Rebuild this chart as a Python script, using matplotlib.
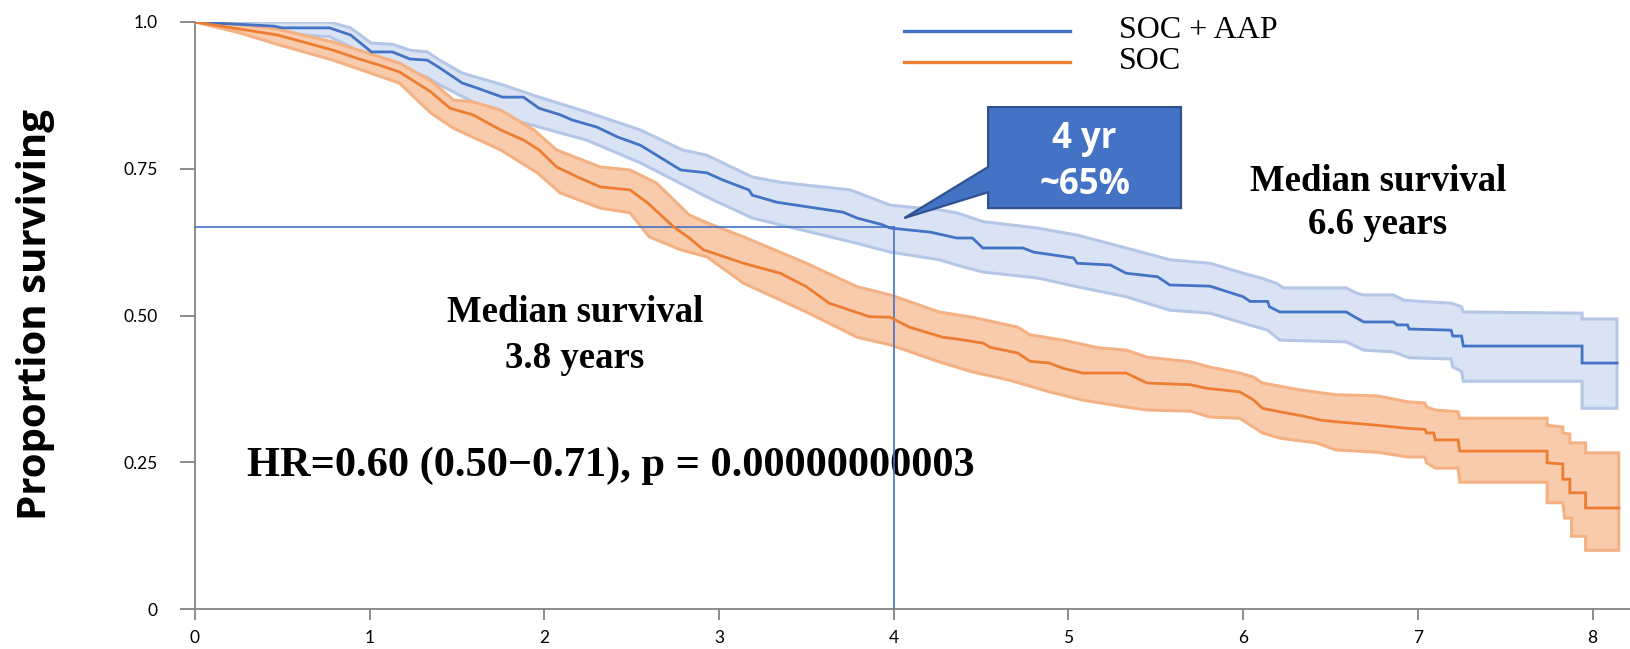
import numpy as np
import matplotlib
matplotlib.use("Agg")
import matplotlib.pyplot as plt

# Kaplan-Meier estimates (years, proportion surviving) with 95% bands
aap_t = [0, 0.45, 0.5, 0.77, 0.89, 1.01, 1.13, 1.23, 1.33, 1.40, 1.53, 1.61, 1.76, 1.88, 1.97,
         2.09, 2.16, 2.30, 2.42, 2.55, 2.78, 2.93, 3.02, 3.17, 3.19, 3.33, 3.71, 3.79, 3.93,
         3.98, 4.21, 4.36, 4.45, 4.51, 4.74, 4.80, 5.03, 5.05, 5.24, 5.33, 5.51, 5.58, 5.81,
         6.00, 6.04, 6.14, 6.15, 6.21, 6.59, 6.63, 6.69, 6.86, 6.88, 6.94, 6.95, 7.19, 7.20,
         7.25, 7.26, 7.94, 7.94, 8.14]
aap_s = [1.0, 0.993, 0.99, 0.99, 0.978, 0.949, 0.949, 0.937, 0.935, 0.922, 0.896, 0.888, 0.872,
         0.872, 0.853, 0.842, 0.833, 0.821, 0.804, 0.790, 0.748, 0.743, 0.731, 0.714, 0.705,
         0.693, 0.676, 0.666, 0.655, 0.649, 0.642, 0.632, 0.632, 0.615, 0.615, 0.608, 0.598,
         0.589, 0.586, 0.572, 0.566, 0.552, 0.550, 0.532, 0.524, 0.524, 0.515, 0.506, 0.506,
         0.499, 0.489, 0.489, 0.484, 0.484, 0.477, 0.475, 0.465, 0.465, 0.448, 0.448, 0.419,
         0.419]
aap_hi_t = [0, 0.77, 0.89, 1.01, 1.13, 1.23, 1.33, 1.40, 1.53, 1.76, 1.97, 2.24, 2.55, 2.79,
            2.93, 3.19, 3.35, 3.75, 3.98, 4.26, 4.36, 4.51, 4.82, 5.05, 5.33, 5.58, 5.81, 6.00,
            6.10, 6.19, 6.23, 6.59, 6.65, 6.69, 6.86, 6.92, 7.07, 7.19, 7.25, 7.26, 7.94, 7.94,
            8.14]
aap_hi = [1.0, 1.0, 0.99, 0.964, 0.962, 0.952, 0.949, 0.935, 0.913, 0.893, 0.872, 0.847, 0.816,
          0.782, 0.773, 0.736, 0.727, 0.714, 0.688, 0.680, 0.675, 0.660, 0.649, 0.637, 0.615,
          0.595, 0.589, 0.572, 0.564, 0.555, 0.547, 0.547, 0.538, 0.535, 0.535, 0.526, 0.523,
          0.521, 0.515, 0.506, 0.504, 0.494, 0.494]
aap_lo_t = [0, 0.5, 0.77, 0.89, 1.01, 1.33, 1.40, 1.76, 1.97, 2.24, 2.55, 2.93, 3.19, 3.79,
            3.98, 4.26, 4.36, 4.51, 4.82, 5.05, 5.33, 5.58, 5.81, 6.00, 6.14, 6.21, 6.59, 6.69,
            6.86, 6.95, 7.19, 7.20, 7.25, 7.26, 7.94, 7.94, 8.14]
aap_lo = [1.0, 0.98, 0.975, 0.958, 0.932, 0.906, 0.893, 0.838, 0.821, 0.799, 0.760, 0.702,
          0.666, 0.623, 0.608, 0.595, 0.586, 0.574, 0.564, 0.549, 0.532, 0.509, 0.504, 0.487,
          0.475, 0.458, 0.455, 0.441, 0.438, 0.428, 0.426, 0.412, 0.405, 0.388, 0.388, 0.342,
          0.342]

soc_t = [0, 0.47, 0.68, 0.79, 0.93, 1.05, 1.17, 1.35, 1.46, 1.59, 1.75, 1.88, 1.97, 2.07, 2.19,
         2.32, 2.49, 2.59, 2.74, 2.83, 2.91, 3.14, 3.35, 3.50, 3.63, 3.86, 3.98, 4.09, 4.28,
         4.36, 4.51, 4.55, 4.71, 4.78, 4.89, 4.97, 5.08, 5.33, 5.45, 5.70, 5.79, 5.98, 6.06,
         6.11, 6.21, 6.34, 6.44, 6.53, 6.77, 6.93, 7.04, 7.05, 7.09, 7.10, 7.23, 7.24, 7.74,
         7.74, 7.83, 7.83, 7.87, 7.87, 7.96, 7.96, 8.15]
soc_s = [1.0, 0.978, 0.961, 0.952, 0.938, 0.927, 0.915, 0.881, 0.853, 0.842, 0.816, 0.799,
         0.782, 0.753, 0.736, 0.719, 0.714, 0.692, 0.651, 0.632, 0.612, 0.589, 0.572, 0.549,
         0.521, 0.498, 0.497, 0.480, 0.463, 0.460, 0.453, 0.446, 0.436, 0.422, 0.419, 0.410,
         0.402, 0.402, 0.385, 0.382, 0.376, 0.370, 0.356, 0.342, 0.336, 0.329, 0.322, 0.319,
         0.313, 0.308, 0.306, 0.300, 0.300, 0.288, 0.288, 0.269, 0.269, 0.249, 0.247, 0.221,
         0.221, 0.198, 0.198, 0.172, 0.172]
soc_hi_t = [0, 0.25, 0.47, 0.79, 1.17, 1.35, 1.48, 1.59, 1.75, 1.94, 2.07, 2.32, 2.49, 2.64,
            2.83, 2.93, 3.14, 3.50, 3.79, 3.98, 4.26, 4.45, 4.71, 4.78, 4.97, 5.17, 5.33, 5.45,
            5.70, 5.81, 5.98, 6.06, 6.11, 6.33, 6.53, 6.77, 6.94, 7.04, 7.05, 7.10, 7.23, 7.24,
            7.74, 7.74, 7.83, 7.83, 7.87, 7.87, 7.96, 7.96, 8.15]
soc_hi = [1.0, 0.996, 0.988, 0.966, 0.930, 0.900, 0.867, 0.864, 0.850, 0.816, 0.782, 0.753,
          0.748, 0.726, 0.671, 0.658, 0.634, 0.589, 0.549, 0.535, 0.506, 0.497, 0.480, 0.467,
          0.458, 0.445, 0.441, 0.429, 0.421, 0.412, 0.402, 0.395, 0.385, 0.373, 0.365, 0.363,
          0.353, 0.351, 0.344, 0.339, 0.336, 0.325, 0.325, 0.313, 0.310, 0.300, 0.298, 0.283,
          0.283, 0.266, 0.266]
soc_lo_t = [0, 0.25, 0.47, 0.79, 1.17, 1.35, 1.48, 1.75, 1.96, 2.09, 2.32, 2.49, 2.60, 2.78,
            2.93, 3.14, 3.50, 3.79, 3.98, 4.26, 4.45, 4.66, 4.89, 5.08, 5.33, 5.45, 5.70, 5.81,
            5.98, 6.11, 6.21, 6.42, 6.53, 6.77, 6.94, 7.04, 7.05, 7.10, 7.23, 7.24, 7.74, 7.74,
            7.83, 7.84, 7.88, 7.88, 7.96, 7.96, 8.15]
soc_lo = [1.0, 0.982, 0.962, 0.935, 0.896, 0.845, 0.819, 0.782, 0.743, 0.709, 0.683, 0.675,
          0.634, 0.612, 0.600, 0.555, 0.506, 0.463, 0.450, 0.421, 0.404, 0.390, 0.370, 0.356,
          0.344, 0.339, 0.337, 0.327, 0.325, 0.300, 0.291, 0.283, 0.271, 0.267, 0.259, 0.259,
          0.249, 0.240, 0.240, 0.216, 0.216, 0.181, 0.181, 0.155, 0.155, 0.124, 0.124, 0.100,
          0.100]

y_ticks = [0, 0.25, 0.5, 0.75, 1.0]
y_tick_labels = ["0", "0.25", "0.50", "0.75", "1.0"]
x_ticks = [0, 1, 2, 3, 4, 5, 6, 7, 8]

mark_year = 4
mark_surv = 0.65

BLUE = "#4472C4"
BLUE_FILL = "#DAE3F3"
BLUE_EDGE = "#B4C7E7"
ORANGE = "#ED7D31"
ORANGE_FILL = "#F8CBAD"
ORANGE_EDGE = "#F4B183"

fig = plt.figure(figsize=(16.31, 6.49), dpi=100)
ax = fig.add_axes([195 / 1631, 40 / 649, 1 - 195 / 1631, 587 / 649])
ax.set_xlim(0, 8.22)
ax.set_ylim(0, 1)


def draw_arm(t, s, hi_t, hi, lo_t, lo, line_color, fill_color, edge_color):
    # band outline: upper bound out, lower bound back
    px = np.r_[hi_t, lo_t[::-1]]
    py = np.r_[hi, lo[::-1]]
    ax.fill(px, py, facecolor=fill_color, edgecolor=edge_color, lw=2.2, zorder=1)
    ax.plot(t, s, color=line_color, lw=2.0, zorder=4, solid_joinstyle="miter")


draw_arm(aap_t, aap_s, aap_hi_t, aap_hi, aap_lo_t, aap_lo, BLUE, BLUE_FILL, BLUE_EDGE)
draw_arm(soc_t, soc_s, soc_hi_t, soc_hi, soc_lo_t, soc_lo, ORANGE, ORANGE_FILL, ORANGE_EDGE)

# 4-year reference lines
ax.plot([0, mark_year], [mark_surv, mark_surv], color=BLUE, lw=1.2, zorder=3.5)
ax.plot([mark_year, mark_year], [0, mark_surv], color=BLUE, lw=1.2, zorder=3.5)

# callout box with pointer
bx0, bx1, by0, by1 = 4.54, 5.644, 0.683, 0.855
callout_x = [bx0, bx1, bx1, bx0, bx0, 4.06, bx0, bx0]
callout_y = [by1, by1, by0, by0, 0.710, 0.666, 0.753, by1]
ax.fill(callout_x, callout_y, facecolor=BLUE, edgecolor="#2F528F", lw=1.6, zorder=5,
        clip_on=False)
ax.text((bx0 + bx1) / 2, 0.800, f"{mark_year} yr", color="white", fontsize=25,
        fontweight="bold", family="Open Sans", ha="center", va="center", zorder=6)
ax.text((bx0 + bx1) / 2, 0.722, f"~{int(mark_surv * 100)}%", color="white", fontsize=25,
        fontweight="bold", family="Open Sans", ha="center", va="center", zorder=6)

# legend drawn by hand
for yy, col, lab in [(0.985, BLUE, "SOC + AAP"), (0.932, ORANGE, "SOC")]:
    ax.plot([4.06, 5.01], [yy, yy], color=col, lw=2.4, clip_on=False)
    ax.text(5.29, yy, lab, fontsize=23, family="Liberation Serif", ha="left", va="center")

serif_bold = dict(family="Liberation Serif", fontweight="bold", color="black")
ax.text(6.77, 0.692, "Median survival\n6.6 years", fontsize=26.5, ha="center", va="center",
        linespacing=1.28, **serif_bold)
ax.text(2.175, 0.466, "Median survival\n3.8 years", fontsize=26.5, ha="center", va="center",
        linespacing=1.42, **serif_bold)
ax.text(0.30, 0.227, "HR=0.60 (0.50\u22120.71), p = 0.00000000003", fontsize=30.5,
        ha="left", va="baseline", zorder=3, **serif_bold)

# axes styling
for side in ["top", "right"]:
    ax.spines[side].set_visible(False)
for side in ["left", "bottom"]:
    ax.spines[side].set_color("#8C8C8C")
    ax.spines[side].set_linewidth(1.4)
ax.set_yticks(y_ticks)
ax.set_yticklabels(y_tick_labels)
ax.set_xticks(x_ticks)
ax.tick_params(axis="y", length=11, width=1.4, color="#8C8C8C", pad=16)
ax.tick_params(axis="x", length=8, width=1.4, color="#8C8C8C", pad=7)
for lab in ax.get_xticklabels() + ax.get_yticklabels():
    lab.set_family("Lato")
    lab.set_fontsize(12.5)

fig.text(36 / 1631, 1 - 314 / 649, "Proportion surviving", rotation=90, ha="center",
         va="center", fontsize=29, fontweight="bold", family="Open Sans")

fig.savefig("out.png", dpi=100)
